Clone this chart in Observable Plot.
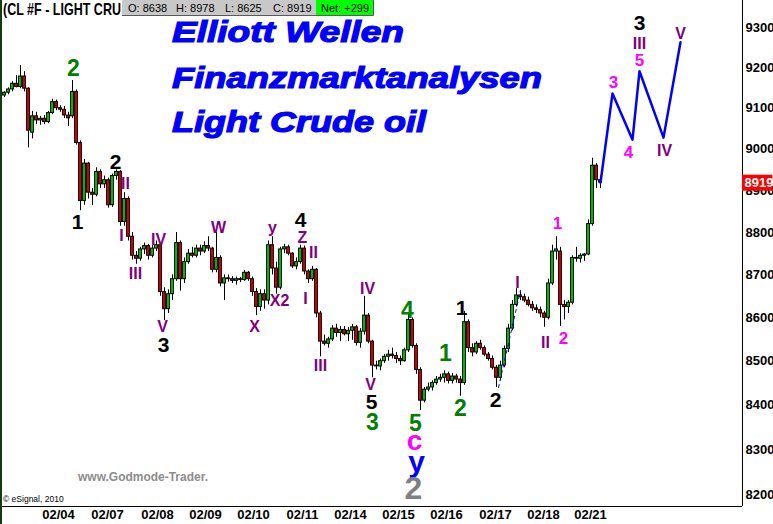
<!DOCTYPE html>
<html><head><meta charset="utf-8">
<script src="https://cdn.jsdelivr.net/npm/d3@7"></script>
<script src="https://cdn.jsdelivr.net/npm/@observablehq/plot@0.6"></script>
<style>
body{margin:0;background:#fff;}
#chart{position:relative;width:773px;height:524px;overflow:hidden;}
</style></head><body><div id="chart"></div>
<script>
// ---- OHLC bars (2-hour bars, Light Crude, 02/03 evening – 02/21) ----
const opens = [9131,9138,9146,9160,9152,9178,9148,9040,9080,9070, 9074,9066,9088,9115,9100,9096,9082,9080,9140,9015,
 8875,8965,8895,8890,8945,8915,8925,8865,8935,8945, 8825,8880,8790,8745,8738,8760,8768,8745,8762,8770,
 8660,8620,8655,8690,8775,8690,8730,8750,8745,8762, 8755,8768,8762,8712,8740,8680,8692,8690,8686,8690,
 8688,8705,8690,8660,8625,8655,8640,8770,8715,8670, 8760,8765,8750,8720,8730,8762,8708,8690,8712,8610,
 8545,8540,8550,8575,8565,8572,8562,8570,8578,8542, 8568,8605,8545,8490,8488,8500,8510,8515,8512,8505,
 8500,8525,8595,8535,8480,8410,8435,8440,8450,8458, 8462,8470,8455,8465,8458,8450,8590,8530,8520,8540,
 8530,8515,8505,8485,8462,8490,8528,8575,8630,8652, 8648,8640,8630,8622,8618,8610,8600,8680,8755,8755,
 8630,8625,8635,8740,8738,8745,8748,8820,8960,8925];
const highs = [9140,9150,9165,9180,9205,9190,9150,9092,9090,9080, 9082,9092,9122,9120,9106,9104,9090,9168,9145,9020,
 8975,8968,8905,8955,8950,8935,8930,8940,8950,8948, 8895,8885,8800,8755,8765,8775,8772,8770,8780,8772,
 8670,8665,8700,8800,8780,8740,8760,8765,8770,8770, 8778,8790,8765,8800,8745,8700,8700,8696,8695,8694,
 8710,8708,8695,8668,8665,8665,8780,8790,8730,8765, 8772,8770,8752,8740,8770,8768,8712,8720,8715,8615,
 8560,8555,8582,8585,8580,8580,8578,8585,8582,8575, 8650,8610,8548,8500,8505,8515,8525,8530,8520,8512,
 8530,8612,8600,8540,8485,8440,8450,8455,8465,8470, 8478,8475,8472,8470,8465,8615,8595,8540,8545,8548,
 8535,8520,8512,8490,8500,8535,8585,8640,8668,8660, 8655,8648,8638,8630,8625,8615,8690,8770,8790,8765,
 8640,8640,8745,8765,8750,8750,8830,8978,8965,8935];
const lows = [9126,9133,9140,9150,9148,9140,9003,9025,9060,9058, 9060,9062,9084,9094,9090,9075,9055,9075,9010,8852,
 8865,8880,8864,8885,8905,8905,8858,8860,8925,8815, 8815,8780,8735,8725,8732,8748,8735,8740,8755,8650,
 8594,8610,8640,8685,8662,8680,8725,8740,8740,8745, 8750,8755,8705,8705,8672,8640,8683,8680,8676,8682,
 8685,8685,8650,8605,8615,8620,8630,8700,8655,8665, 8750,8745,8715,8712,8725,8700,8680,8685,8600,8510,
 8535,8530,8545,8555,8545,8558,8545,8548,8535,8530, 8560,8540,8462,8480,8478,8495,8500,8505,8495,8490,
 8498,8520,8530,8470,8388,8405,8430,8432,8445,8452, 8450,8448,8448,8450,8420,8445,8520,8510,8515,8525,
 8510,8500,8480,8440,8455,8485,8520,8570,8625,8640, 8635,8625,8615,8610,8600,8578,8595,8675,8735,8580,
 8595,8610,8630,8730,8728,8732,8745,8815,8905,8905];
const closes = [9138,9146,9160,9152,9178,9148,9045,9080,9070,9074, 9066,9088,9115,9100,9096,9082,9075,9140,9015,8875,
 8965,8895,8890,8945,8915,8925,8865,8935,8945,8825, 8880,8790,8745,8738,8760,8768,8745,8762,8770,8660,
 8620,8655,8690,8775,8690,8730,8750,8745,8762,8755, 8768,8762,8712,8740,8680,8692,8690,8686,8690,8688,
 8705,8690,8660,8625,8655,8640,8770,8715,8670,8760, 8765,8750,8720,8730,8762,8708,8690,8712,8610,8545,
 8540,8550,8575,8565,8572,8562,8570,8578,8542,8568, 8605,8545,8490,8488,8500,8510,8515,8512,8505,8500,
 8525,8595,8535,8480,8410,8435,8440,8450,8458,8462, 8470,8455,8465,8458,8450,8590,8530,8520,8540,8530,
 8515,8505,8485,8462,8490,8528,8575,8630,8652,8648, 8640,8630,8622,8618,8610,8600,8680,8755,8760,8630,
 8625,8635,8740,8738,8745,8748,8820,8960,8925,8919];

// ---- axes ----
const dayTicks = [13.5, 25.75, 38.25, 50.25, 62.25, 74.5, 86.5, 98.5, 110.5, 122.75, 134.75, 146.5];
const dayLabels = ["02/04","02/07","02/08","02/09","02/10","02/11","02/14","02/15","02/16","02/17","02/18","02/21"];
const priceTicks = [8200,8300,8400,8500,8600,8700,8800,8900,9000,9100,9200,9300];

// ---- projected wave path (blue) and guide (dashed) ----
const projBars = [149, 152, 157, 158.75, 164.75, 169];
const projPrices = [8919, 9136, 9023, 9191, 9028, 9263];
const guideBars = [123.5, 129];
const guidePrices = [8440, 8664];

// ---- wave labels (bar position, price, label) ----
const blackWaves = [
 {bar:18.25, price:8824, label:"1"}, {bar:27.75, price:8968, label:"2"}, {bar:39.75, price:8536, label:"3"},
 {bar:74, price:8829, label:"4"}, {bar:91.75, price:8406, label:"5"}, {bar:114.25, price:8622, label:"1"},
 {bar:122.75, price:8410, label:"2"}, {bar:158.75, price:9310, label:"3"}];
const purpleWaves = [
 {bar:30.25, price:8915, label:"II"}, {bar:29.25, price:8793, label:"I"}, {bar:32.75, price:8703, label:"III"},
 {bar:38.5, price:8783, label:"IV"}, {bar:39.5, price:8578, label:"V"}, {bar:53.5, price:8812, label:"W"},
 {bar:67, price:8810, label:"y"}, {bar:68.75, price:8640, label:"X2"}, {bar:62.5, price:8578, label:"X"},
 {bar:74.5, price:8788, label:"Z"}, {bar:77.25, price:8753, label:"II"}, {bar:75.25, price:8645, label:"I"},
 {bar:79, price:8490, label:"III"}, {bar:90.75, price:8668, label:"IV"}, {bar:91.5, price:8447, label:"V"},
 {bar:128.25, price:8682, label:"I"}, {bar:135.25, price:8541, label:"II"}, {bar:158.75, price:9260, label:"III"},
 {bar:165, price:8997, label:"IV"}, {bar:169, price:9285, label:"V"}];
const greenWaves = [
 {bar:17.25, price:9198, label:"2"}, {bar:92, price:8361, label:"3"}, {bar:100.75, price:8617, label:"4"},
 {bar:102.75, price:8358, label:"5"}, {bar:110.25, price:8518, label:"1"}, {bar:114, price:8392, label:"2"}];
const magentaWaves = [
 {bar:138.25, price:8821, label:"1"}, {bar:139.75, price:8552, label:"2"}, {bar:152.25, price:9163, label:"3"},
 {bar:156, price:8992, label:"4"}, {bar:158.75, price:9218, label:"5"}];
const waveC = [{bar:102.5, price:8320, label:"c"}];
const waveY = [{bar:103, price:8271, label:"y"}];
const wave2 = [{bar:102.25, price:8213, label:"2"}];

// ---- header texts ----
const symbolText = "(CL #F - LIGHT CRU";
const quoteLabels = ["O: 8638", "H: 8978", "L: 8625", "C: 8919", "Net: +299"];
const titleLines = ["Elliott Wellen", "Finanzmarktanalysen", "Light Crude oil"];
const watermark = "www.Godmode-Trader.";
const copyright = "\u00A9 eSignal, 2010";

// ---- build ----
const bars = closes.map((c, i) => ({i, open: opens[i], high: highs[i], low: lows[i], close: c}));
const proj = projBars.map((b, k) => ({bar: b, price: projPrices[k]}));
const guide = guideBars.map((b, k) => ({bar: b, price: guidePrices[k]}));
const xMax = 184.5, yMin = 8173.5, yMax = 9368;
const lastClose = closes[closes.length - 1];
const lf = "'Liberation Sans', Arial, sans-serif";

const waveText = (data, fill, size) => Plot.text(data, {x: "bar", y: "price", text: "label", fill, fontSize: size, fontFamily: lf, fontWeight: "bold"});

const chart = Plot.plot({
  width: 773, height: 524, marginLeft: 2, marginRight: 31, marginTop: 0, marginBottom: 18,
  style: {fontFamily: "'Liberation Sans Narrow', 'Liberation Sans', Arial, sans-serif", fontWeight: "bold", fontSize: "13px", color: "#000", background: "transparent", overflow: "visible"},
  x: {domain: [-0.5, xMax]},
  y: {type: "log", domain: [yMin, yMax]},
  marks: [
    Plot.axisY(priceTicks, {anchor: "right", tickSize: 0, tickPadding: 3, tickFormat: d => String(d)}),
    Plot.axisX(dayTicks, {anchor: "bottom", tickSize: 0, tickPadding: 3, tickFormat: d => dayLabels[dayTicks.indexOf(d)]}),
    Plot.ruleY([yMin], {stroke: "#000"}),
    Plot.ruleX([xMax], {stroke: "#000"}),
    Plot.ruleX(bars, {x: "i", y1: "low", y2: "high", stroke: "#000", strokeWidth: 1}),
    Plot.rect(bars, {x1: d => d.i - 0.35, x2: d => d.i + 0.35, y1: "open", y2: "close",
      fill: d => d.close >= d.open ? "#00cc00" : "#e00000", stroke: "#000", strokeWidth: 1}),
    Plot.line(guide, {x: "bar", y: "price", stroke: "#0000ff", strokeWidth: 1, strokeDasharray: "3,4"}),
    Plot.line(proj, {x: "bar", y: "price", stroke: "#0000ff", strokeWidth: 2.5}),
    waveText(purpleWaves, "#800080", 16),
    waveText(blackWaves, "#000000", 21),
    waveText(greenWaves, "#008000", 23),
    waveText(magentaWaves, "#ff00ff", 17),
    waveText(waveC, "#ff00ff", 28),
    waveText(waveY, "#0000ff", 30),
    waveText(wave2, "#808080", 32),
    Plot.ruleY([lastClose], {x1: xMax, x2: xMax + 7.6, stroke: "#ff0000", strokeWidth: 16}),
    Plot.text([lastClose], {x: xMax, y: d => d, text: d => String(d), dx: 2, textAnchor: "start", fill: "#fff", fontSize: 13})
  ]
});

const svg = d3.select(chart);
const deco = svg.append("g").attr("text-anchor", "start");
deco.append("rect").attr("x", 0).attr("y", 0).attr("width", 2).attr("height", 524).attr("fill", "#143c14");
// symbol + quote bar
deco.append("text").attr("x", 3).attr("y", 15).text(symbolText)
  .attr("font-family", "'Liberation Sans Narrow', Arial").attr("font-size", 17).attr("font-weight", "bold").attr("fill", "#000")
  .attr("textLength", 118).attr("lengthAdjust", "spacingAndGlyphs");
deco.append("rect").attr("x", 122).attr("y", 0).attr("width", 251).attr("height", 15).attr("fill", "#c8c8c8");
deco.append("rect").attr("x", 316).attr("y", 0).attr("width", 57).attr("height", 15).attr("fill", "#00ff00");
deco.append("path").attr("d", "M122,15.5H373.5V0").attr("stroke", "#5a5a5a").attr("fill", "none");
const qx = [128, 176, 225, 273, 321];
quoteLabels.forEach((t, k) => {
  deco.append("text").attr("x", qx[k]).attr("y", 11.5).text(t)
    .attr("font-family", lf).attr("font-size", 11).attr("font-weight", "normal").attr("fill", "#000");
});
// titles
const ty = [42, 87.5, 132], tw = [232, 370, 254];
titleLines.forEach((t, k) => {
  deco.append("text").attr("x", 172).attr("y", ty[k]).text(t)
    .attr("font-family", lf).attr("font-size", 29).attr("font-weight", "bold").attr("font-style", "italic")
    .attr("fill", "#0000ff").attr("stroke", "#0000ff").attr("stroke-width", 1.2)
    .attr("textLength", tw[k]).attr("lengthAdjust", "spacingAndGlyphs");
});
deco.append("text").attr("x", 78).attr("y", 481).text(watermark)
  .attr("font-family", lf).attr("font-size", 12).attr("font-weight", "bold").attr("fill", "#8c8c8c")
  .attr("textLength", 130).attr("lengthAdjust", "spacingAndGlyphs");
deco.append("text").attr("x", 3).attr("y", 502).text(copyright)
  .attr("font-family", lf).attr("font-size", 8.5).attr("font-weight", "normal").attr("fill", "#000");

document.getElementById("chart").appendChild(chart);
</script></body></html>
